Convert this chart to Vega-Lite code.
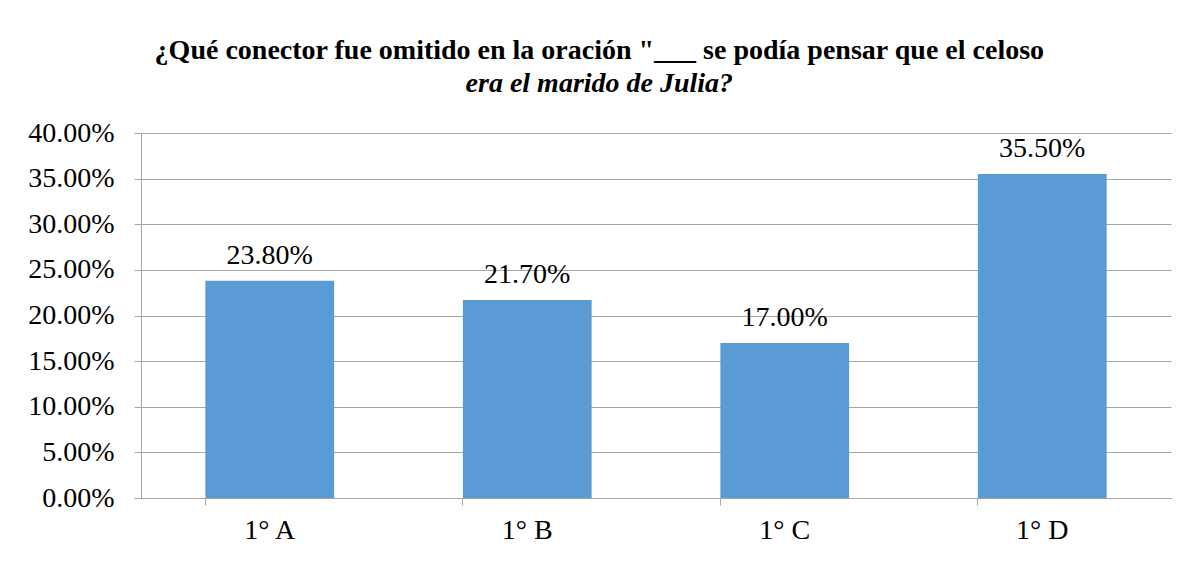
{
  "$schema": "https://vega.github.io/schema/vega-lite/v6.json",
  "width": 1030,
  "height": 365,
  "padding": {"left": 27, "top": 37, "right": 18, "bottom": 5},
  "background": "white",
  "title": {
    "text": "¿Qué conector fue omitido en la oración \"___ se podía pensar que el celoso",
    "subtitle": "era el marido de Julia?",
    "anchor": "middle",
    "frame": "bounds",
    "font": "Liberation Serif",
    "fontSize": 28,
    "fontWeight": "bold",
    "color": "black",
    "subtitleFont": "Liberation Serif",
    "subtitleFontSize": 28,
    "subtitleFontWeight": "bold",
    "subtitleFontStyle": "italic",
    "subtitleColor": "black",
    "subtitlePadding": 5,
    "offset": 21
  },
  "data": {
    "values": [
      {"grupo": "1° A", "porcentaje": 0.238},
      {"grupo": "1° B", "porcentaje": 0.217},
      {"grupo": "1° C", "porcentaje": 0.17},
      {"grupo": "1° D", "porcentaje": 0.355}
    ]
  },
  "encoding": {
    "x": {
      "field": "grupo",
      "type": "nominal",
      "sort": null,
      "scale": {"paddingInner": 0.5, "paddingOuter": 0.25},
      "axis": {
        "title": null,
        "labelAngle": 0,
        "labelFont": "Liberation Serif",
        "labelFontSize": 28,
        "labelColor": "black",
        "labelPadding": 11,
        "domainColor": "#a6a6a6",
        "tickColor": "#a6a6a6",
        "tickSize": 7,
        "bandPosition": 0,
        "grid": false
      }
    },
    "y": {
      "field": "porcentaje",
      "type": "quantitative",
      "scale": {"domain": [0, 0.4], "nice": false},
      "axis": {
        "title": null,
        "format": ".2%",
        "values": [0, 0.05, 0.1, 0.15, 0.2, 0.25, 0.3, 0.35, 0.4],
        "labelFont": "Liberation Serif",
        "labelFontSize": 28,
        "labelColor": "black",
        "labelPadding": 20,
        "domainColor": "#a6a6a6",
        "tickColor": "#a6a6a6",
        "tickSize": 7,
        "gridColor": "#a6a6a6",
        "grid": true
      }
    }
  },
  "layer": [
    {"mark": {"type": "bar", "color": "#5b9bd5"}},
    {
      "mark": {
        "type": "text",
        "baseline": "alphabetic",
        "dy": -17,
        "font": "Liberation Serif",
        "fontSize": 28,
        "color": "black"
      },
      "encoding": {
        "text": {"field": "porcentaje", "type": "quantitative", "format": ".2%"}
      }
    }
  ],
  "config": {"font": "Liberation Serif", "view": {"stroke": null}}
}
